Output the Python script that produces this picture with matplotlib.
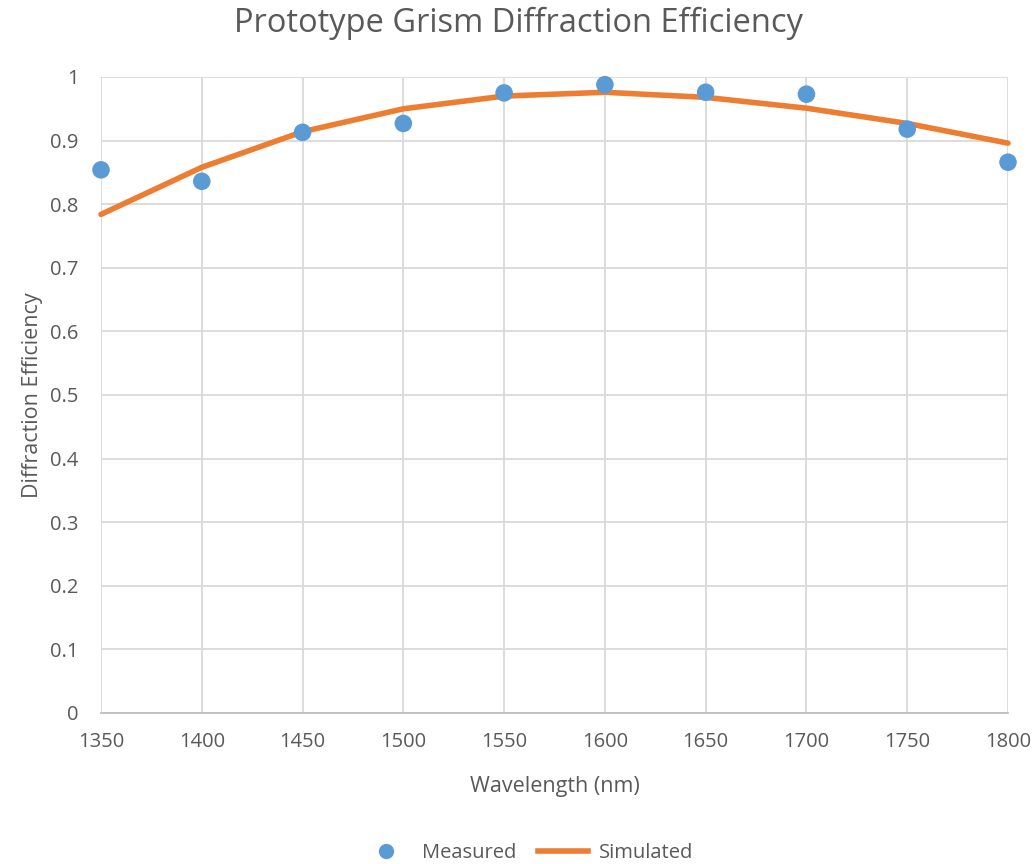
import matplotlib
matplotlib.use("Agg")
import matplotlib.pyplot as plt
from matplotlib.lines import Line2D

wavelength = [1350, 1400, 1450, 1500, 1550, 1600, 1650, 1700, 1750, 1800]
measured = [0.854, 0.836, 0.913, 0.927, 0.975, 0.988, 0.976, 0.973, 0.918, 0.866]
simulated = [0.784, 0.858, 0.914, 0.950, 0.970, 0.976, 0.968, 0.951, 0.927, 0.896]
y_ticks = [0, 0.1, 0.2, 0.3, 0.4, 0.5, 0.6, 0.7, 0.8, 0.9, 1]
y_labels = ["0", "0.1", "0.2", "0.3", "0.4", "0.5", "0.6", "0.7", "0.8", "0.9", "1"]

plt.rcParams['font.family'] = ['Open Sans', 'DejaVu Sans']
txt = '#595959'
grid = '#D9D9D9'
blue = '#5B9BD5'
orange = '#ED7D31'

fig = plt.figure(figsize=(10.35, 8.64), dpi=100)
ax = fig.add_axes([101/1035, 1-713/864, (1008-101)/1035, (713-77)/864])

ax.plot(wavelength, simulated, color=orange, lw=4, solid_capstyle='round', zorder=3,
        label='Simulated', clip_on=False)
ax.scatter(wavelength, measured, s=160, color=blue, zorder=4, edgecolors='none',
           label='Measured', clip_on=False)

ax.set_xlim(1350, 1800)
ax.set_ylim(0, 1)
ax.set_xticks(wavelength)
ax.set_yticks(y_ticks)
ax.set_yticklabels(y_labels)
ax.grid(True, color=grid, lw=1.3)
ax.set_axisbelow(True)
for s in ['top', 'right', 'left']:
    ax.spines[s].set_visible(False)
ax.spines['bottom'].set_color('#BFBFBF')
ax.spines['bottom'].set_linewidth(1.3)
ax.tick_params(axis='both', length=0, labelsize=14.5, labelcolor=txt)
ax.tick_params(axis='x', pad=14)
ax.tick_params(axis='y', pad=16)
for lab in ax.get_yticklabels():
    lab.set_horizontalalignment('right')

ax.set_xlabel('Wavelength (nm)', fontsize=15.5, color=txt, labelpad=17)
ax.set_ylabel('Diffraction Efficiency', fontsize=15.5, color=txt, labelpad=5)
fig.text(518/1035, 1-23/864, 'Prototype Grism Diffraction Efficiency', ha='center', va='center',
         fontsize=23.5, color=txt)

handles = [Line2D([0], [0], marker='o', color='none', markerfacecolor=blue, markeredgecolor='none', markersize=11),
           Line2D([0], [0], color=orange, lw=4)]
fig.legend(handles, ['Measured', 'Simulated'], loc='center', bbox_to_anchor=(527/1035, 1-853/864),
           ncol=2, frameon=False, fontsize=14.5, labelcolor=txt, handlelength=2.5, columnspacing=1.1,
           handletextpad=0.5)

fig.savefig('out.png', dpi=100, facecolor='white')
